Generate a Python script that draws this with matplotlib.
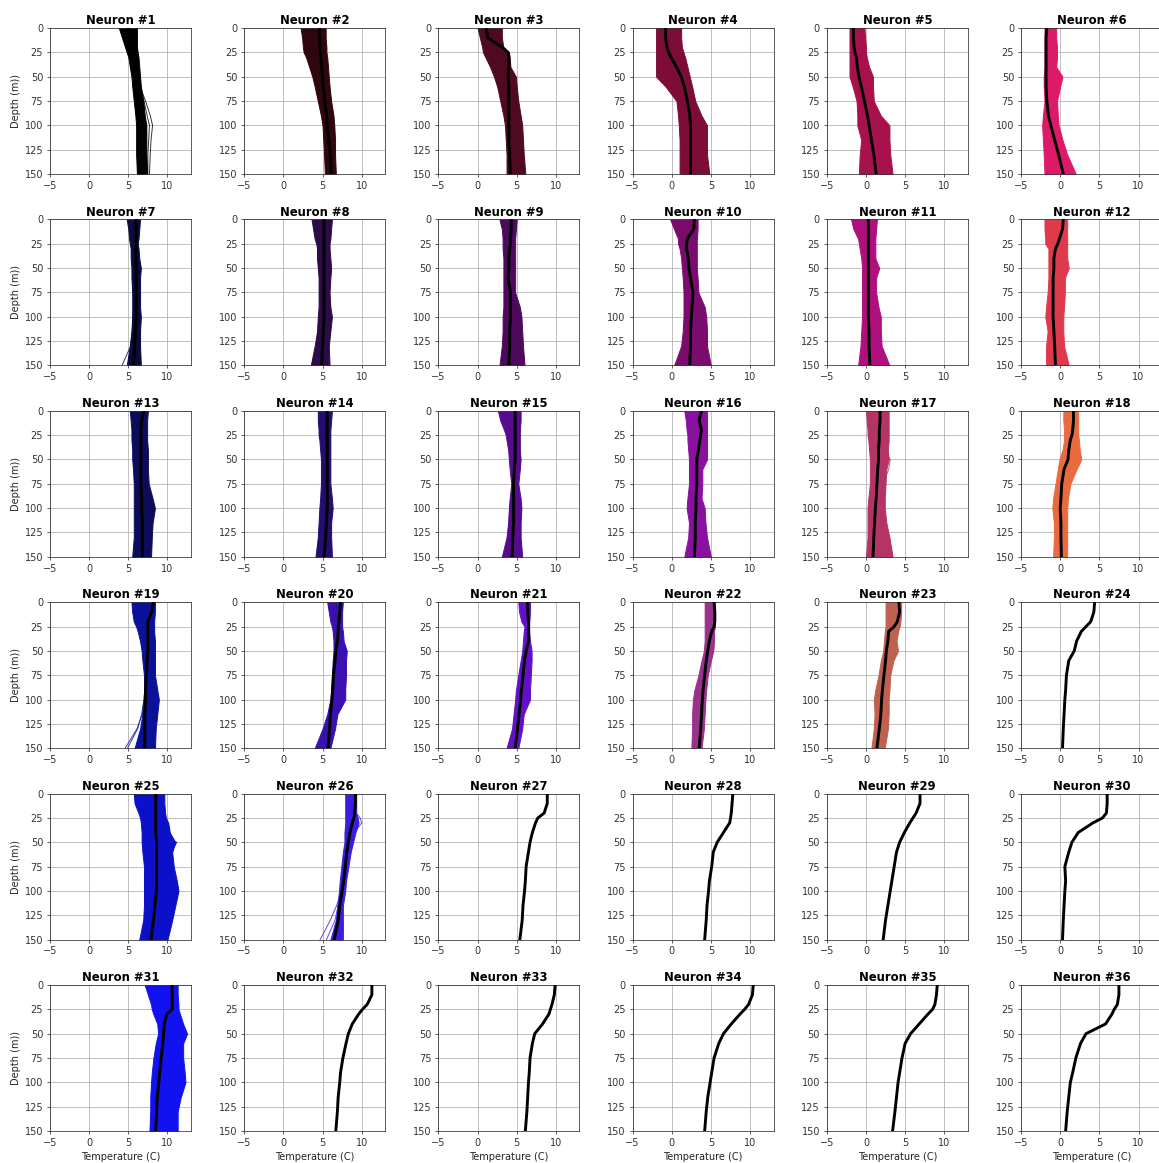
import matplotlib
matplotlib.use("Agg")
import matplotlib.pyplot as plt

# depth levels (m) where profiles were read
depth = [0, 10, 20, 25, 30, 40, 50, 60, 75, 90, 100, 115, 130, 150]

# panel fill colours (None -> only one member, just the mean line shows)
colors = {
    1: "#000000", 2: "#30060f", 3: "#4f0a22", 4: "#7d0c37", 5: "#a8124c", 6: "#dd1a6a",
    7: "#0b0b3c", 8: "#2c0b48", 9: "#4d0a5c", 10: "#7a0c6e", 11: "#b0107e", 12: "#de3a4c",
    13: "#0c0c5a", 14: "#240c70", 15: "#560c8c", 16: "#8a10a0", 17: "#b53466", 18: "#e96a3e",
    19: "#0c1298", 20: "#3a10b0", 21: "#6410c8", 22: "#98328c", 23: "#c0604f", 24: None,
    25: "#0c10c8", 26: "#3c1ce0", 27: None, 28: None, 29: None, 30: None,
    31: "#1212f0", 32: None, 33: None, 34: None, 35: None, 36: None,
}

# min / max of members per neuron
lo = {
    1: [3.8, 4.2, 4.6, 4.8, 5.0, 5.2, 5.4, 5.5, 5.7, 5.9, 6.0, 6.0, 6.0, 6.1],
    2: [2.2, 2.4, 2.5, 2.6, 2.9, 3.3, 3.7, 4.0, 4.4, 4.8, 5.0, 5.1, 5.2, 5.3],
    3: [0.0, 0.3, 0.6, 0.7, 1.0, 1.6, 2.1, 2.5, 2.9, 3.3, 3.5, 3.6, 3.7, 3.7],
    4: [-2.0, -2.0, -2.0, -2.0, -2.0, -2.0, -2.0, -0.8, 0.6, 0.8, 0.9, 1.0, 1.0, 1.0],
    5: [-2.1, -2.1, -2.1, -2.1, -2.1, -2.1, -2.1, -1.7, -1.2, -1.1, -1.1, -0.6, -0.8, -0.9],
    6: [-2.0, -2.0, -2.0, -2.0, -2.0, -2.0, -2.1, -2.1, -2.0, -2.2, -2.3, -2.2, -2.1, -2.0],
    7: [4.8, 5.0, 5.1, 5.2, 5.3, 5.3, 5.4, 5.4, 5.5, 5.5, 5.5, 5.4, 5.2, 4.8],
    8: [3.6, 3.8, 4.0, 4.2, 4.3, 4.3, 4.4, 4.5, 4.5, 4.5, 4.4, 4.3, 4.0, 3.5],
    9: [2.8, 3.1, 3.2, 3.2, 3.2, 3.3, 3.3, 3.3, 3.3, 3.3, 3.2, 3.2, 3.1, 2.8],
    10: [-0.2, 0.3, 0.8, 0.8, 1.0, 1.2, 1.3, 1.4, 1.5, 1.5, 1.5, 1.4, 1.2, 0.3],
    11: [-1.9, -1.6, -1.0, -0.9, -0.8, -0.6, -0.5, -0.5, -0.5, -0.5, -0.5, -0.6, -0.7, -1.0],
    12: [-2.0, -2.0, -1.9, -1.9, -1.5, -1.5, -1.5, -1.5, -1.6, -1.8, -1.9, -1.6, -1.8, -1.8],
    13: [5.2, 5.3, 5.4, 5.4, 5.4, 5.5, 5.5, 5.6, 5.7, 5.7, 5.7, 5.7, 5.7, 5.5],
    14: [4.4, 4.4, 4.5, 4.5, 4.6, 4.7, 4.8, 4.8, 4.8, 4.7, 4.6, 4.5, 4.4, 4.1],
    15: [2.6, 2.9, 3.4, 3.6, 3.7, 3.9, 4.0, 4.1, 4.3, 4.1, 4.0, 3.9, 3.7, 3.1],
    16: [1.6, 1.8, 1.9, 2.0, 2.0, 2.1, 2.2, 2.2, 2.2, 2.0, 1.9, 2.2, 2.1, 1.6],
    17: [0.0, 0.1, 0.2, 0.2, 0.3, 0.4, 0.5, 0.5, 0.5, 0.3, 0.2, 0.2, 0.2, 0.0],
    18: [0.4, 0.4, 0.5, 0.5, 0.5, 0.3, -0.1, -0.3, -0.6, -0.9, -1.0, -0.8, -0.8, -0.9],
    19: [5.4, 5.5, 5.7, 6.0, 6.2, 6.5, 6.7, 6.8, 7.0, 7.0, 7.0, 6.8, 6.5, 5.8],
    20: [5.6, 5.8, 6.0, 6.2, 6.3, 6.4, 6.4, 6.3, 6.2, 6.1, 6.0, 5.6, 5.0, 4.0],
    21: [5.2, 5.3, 5.6, 6.0, 5.9, 5.8, 5.7, 5.5, 5.2, 4.9, 4.8, 4.6, 4.4, 3.7],
    22: [4.2, 4.2, 4.2, 4.2, 4.2, 4.2, 4.1, 3.8, 3.4, 2.9, 2.7, 2.6, 2.6, 2.5],
    23: [2.5, 2.5, 2.5, 2.5, 2.4, 2.3, 2.2, 1.9, 1.6, 1.2, 1.0, 1.1, 1.0, 0.7],
    25: [5.7, 5.8, 6.3, 6.5, 6.6, 6.7, 6.7, 6.8, 7.0, 7.0, 7.0, 7.0, 6.9, 6.4],
    26: [7.9, 7.9, 7.9, 7.9, 7.9, 7.8, 7.8, 7.6, 7.4, 7.2, 7.1, 6.9, 6.7, 6.0],
    31: [7.1, 7.5, 7.9, 8.0, 8.2, 8.7, 8.8, 8.5, 8.2, 8.0, 7.9, 7.8, 7.8, 7.7],
}
hi = {
    1: [6.1, 6.1, 6.1, 6.2, 6.3, 6.4, 6.5, 6.6, 6.9, 7.1, 7.3, 7.3, 7.3, 7.4],
    2: [5.4, 5.4, 5.5, 5.5, 5.6, 5.7, 5.8, 5.9, 6.1, 6.4, 6.5, 6.6, 6.6, 6.7],
    3: [3.1, 3.1, 3.3, 4.0, 4.1, 4.2, 4.9, 5.0, 5.2, 5.5, 5.7, 5.8, 5.9, 6.1],
    4: [1.2, 1.2, 1.3, 1.5, 1.7, 2.0, 2.3, 2.6, 3.0, 3.8, 4.5, 4.5, 4.5, 4.8],
    5: [-0.2, -0.1, 0.0, 0.0, 0.1, 0.4, 0.9, 0.9, 1.0, 1.9, 3.0, 3.0, 3.1, 3.4],
    6: [-0.5, -0.5, -0.4, -0.4, -0.4, -0.5, 0.3, 0.0, -0.4, -0.3, -0.2, 0.3, 0.9, 2.0],
    7: [6.5, 6.4, 6.3, 6.2, 6.3, 6.4, 6.6, 6.5, 6.5, 6.5, 6.6, 6.5, 6.5, 6.6],
    8: [6.2, 6.1, 6.0, 5.9, 5.9, 6.0, 6.1, 6.0, 5.9, 6.0, 6.2, 6.0, 5.8, 5.9],
    9: [5.0, 4.9, 4.8, 4.8, 4.8, 4.8, 4.8, 4.8, 4.8, 5.4, 5.6, 5.7, 5.8, 6.0],
    10: [3.3, 3.3, 3.2, 3.2, 3.2, 3.2, 3.2, 3.3, 3.4, 4.2, 4.4, 4.5, 4.5, 5.0],
    11: [1.4, 1.3, 1.2, 1.2, 1.2, 1.2, 1.7, 1.3, 1.3, 1.6, 1.9, 1.9, 2.0, 3.0],
    12: [0.9, 0.9, 0.9, 0.9, 0.9, 0.9, 1.1, 0.6, 0.6, 0.5, 0.4, 0.4, 0.5, 1.1],
    13: [7.5, 7.4, 7.4, 7.4, 7.4, 7.5, 7.5, 7.5, 7.6, 8.1, 8.4, 8.1, 8.0, 7.9],
    14: [6.2, 6.1, 6.0, 6.0, 6.0, 6.0, 6.0, 6.0, 6.0, 6.2, 6.3, 6.1, 6.1, 6.2],
    15: [5.5, 5.5, 5.4, 5.4, 5.4, 5.4, 5.5, 5.4, 5.2, 5.5, 5.6, 5.5, 5.5, 5.7],
    16: [4.5, 4.5, 4.5, 4.5, 4.5, 4.5, 4.5, 3.9, 3.9, 3.8, 4.2, 4.3, 4.5, 5.0],
    17: [2.9, 2.9, 2.9, 2.9, 2.9, 2.8, 2.9, 2.6, 2.5, 2.4, 2.4, 2.6, 3.0, 3.4],
    18: [2.3, 2.3, 2.3, 2.3, 2.4, 2.5, 2.7, 2.1, 1.3, 1.0, 0.9, 0.9, 0.9, 0.9],
    19: [8.4, 8.4, 8.3, 8.3, 8.3, 8.4, 8.4, 8.4, 8.4, 8.7, 8.9, 8.7, 8.5, 8.4],
    20: [7.6, 7.5, 7.5, 7.5, 7.6, 7.7, 8.1, 8.0, 8.0, 7.9, 7.9, 6.9, 6.6, 6.0],
    21: [6.7, 6.7, 6.6, 6.6, 6.6, 6.7, 6.9, 6.9, 6.8, 6.7, 6.7, 5.9, 5.7, 5.2],
    22: [5.5, 5.5, 5.5, 5.5, 5.4, 5.4, 5.3, 5.0, 4.6, 4.4, 4.3, 4.2, 4.1, 3.8],
    23: [4.5, 4.5, 4.4, 4.3, 4.1, 3.9, 4.1, 3.5, 3.1, 3.0, 2.9, 2.9, 2.8, 2.4],
    25: [9.6, 9.6, 9.7, 9.8, 10.1, 10.3, 11.0, 10.6, 10.8, 11.2, 11.4, 11.0, 10.6, 10.0],
    26: [9.3, 9.3, 9.3, 9.5, 9.6, 9.2, 8.9, 8.6, 8.3, 8.0, 7.9, 7.6, 7.6, 7.6],
    31: [11.3, 11.3, 11.4, 11.4, 11.6, 12.0, 12.5, 12.0, 12.0, 12.2, 12.3, 11.7, 11.3, 11.3],
}

# mean profile per neuron
mean = {
    1: [5.0, 5.2, 5.4, 5.5, 5.7, 5.8, 6.0, 6.1, 6.3, 6.5, 6.6, 6.6, 6.6, 6.7],
    2: [4.6, 4.6, 4.7, 4.7, 4.8, 4.9, 5.0, 5.1, 5.3, 5.5, 5.6, 5.8, 6.0, 6.1],
    3: [1.1, 1.3, 3.2, 3.9, 4.0, 4.0, 3.9, 4.0, 4.0, 4.0, 4.0, 4.0, 4.1, 4.2],
    4: [-0.8, -0.8, -0.6, -0.4, -0.1, 0.6, 1.2, 1.6, 2.0, 2.3, 2.4, 2.4, 2.4, 2.4],
    5: [-1.6, -1.6, -1.5, -1.4, -1.2, -1.1, -0.9, -0.6, -0.2, 0.2, 0.4, 0.7, 1.0, 1.3],
    6: [-1.7, -1.8, -1.8, -1.8, -1.8, -1.8, -1.8, -1.8, -1.7, -1.5, -1.2, -0.7, -0.2, 0.4],
    7: [6.0, 6.0, 6.0, 6.0, 6.0, 6.0, 6.0, 6.0, 6.0, 6.0, 6.0, 5.9, 5.8, 5.7],
    8: [5.2, 5.2, 5.2, 5.2, 5.2, 5.2, 5.2, 5.2, 5.2, 5.2, 5.2, 5.1, 5.0, 4.9],
    9: [4.3, 4.3, 4.2, 4.2, 4.1, 4.0, 4.0, 3.9, 4.2, 4.2, 4.2, 4.1, 4.1, 4.0],
    10: [2.9, 2.8, 2.0, 1.9, 1.9, 2.1, 2.2, 2.4, 2.7, 2.6, 2.5, 2.4, 2.4, 2.3],
    11: [0.3, 0.3, 0.3, 0.3, 0.3, 0.3, 0.3, 0.3, 0.3, 0.3, 0.3, 0.4, 0.4, 0.5],
    12: [0.4, 0.3, -0.1, -0.3, -0.6, -0.8, -0.8, -0.9, -0.9, -0.9, -0.9, -0.8, -0.7, -0.6],
    13: [7.0, 6.7, 6.6, 6.6, 6.6, 6.6, 6.6, 6.6, 6.6, 6.7, 6.7, 6.8, 6.8, 6.8],
    14: [5.6, 5.6, 5.6, 5.6, 5.6, 5.6, 5.6, 5.6, 5.6, 5.6, 5.6, 5.5, 5.4, 5.2],
    15: [4.8, 4.8, 4.8, 4.8, 4.8, 4.8, 4.8, 4.7, 4.6, 4.6, 4.6, 4.6, 4.5, 4.4],
    16: [3.8, 3.5, 3.8, 3.7, 3.6, 3.4, 3.2, 3.2, 3.2, 3.1, 3.1, 3.0, 3.0, 2.9],
    17: [1.8, 1.8, 1.7, 1.7, 1.7, 1.6, 1.6, 1.5, 1.4, 1.3, 1.2, 1.1, 1.0, 0.9],
    18: [1.7, 1.7, 1.6, 1.5, 1.3, 1.1, 1.0, 0.5, 0.2, 0.1, 0.0, 0.1, 0.1, 0.15],
    19: [8.2, 8.0, 7.5, 7.5, 7.5, 7.5, 7.5, 7.4, 7.3, 7.2, 7.2, 7.1, 7.1, 7.1],
    20: [7.3, 7.2, 7.1, 7.0, 7.0, 6.9, 6.7, 6.6, 6.4, 6.3, 6.2, 6.0, 5.9, 5.7],
    21: [6.4, 6.4, 6.5, 6.5, 6.5, 6.5, 6.2, 6.0, 5.8, 5.6, 5.5, 5.3, 5.1, 4.8],
    22: [5.4, 5.5, 5.5, 5.4, 5.1, 4.8, 4.6, 4.4, 4.2, 4.0, 3.9, 3.8, 3.7, 3.5],
    23: [4.2, 4.3, 4.0, 3.6, 2.9, 2.8, 2.6, 2.5, 2.3, 2.1, 2.0, 1.9, 1.7, 1.4],
    24: [4.4, 4.3, 3.9, 3.3, 2.7, 2.1, 1.8, 1.1, 0.8, 0.7, 0.6, 0.5, 0.4, 0.3],
    25: [8.5, 8.5, 8.5, 8.5, 8.5, 8.5, 8.6, 8.6, 8.6, 8.6, 8.6, 8.4, 8.2, 7.9],
    26: [9.2, 9.2, 9.1, 9.0, 8.8, 8.5, 8.3, 8.1, 7.9, 7.7, 7.5, 7.2, 7.0, 6.5],
    27: [8.9, 8.9, 8.5, 7.7, 7.4, 7.0, 6.7, 6.5, 6.2, 6.1, 6.0, 5.8, 5.7, 5.4],
    28: [7.8, 7.7, 7.6, 7.5, 7.4, 6.6, 5.8, 5.3, 5.1, 4.8, 4.7, 4.5, 4.4, 4.2],
    29: [6.9, 6.9, 6.4, 6.0, 5.6, 4.9, 4.3, 3.9, 3.6, 3.3, 3.1, 2.8, 2.5, 2.2],
    30: [6.0, 6.0, 5.9, 5.4, 4.2, 2.3, 1.5, 1.1, 0.6, 0.7, 0.6, 0.5, 0.4, 0.3],
    31: [10.6, 10.6, 10.6, 10.6, 9.9, 9.6, 9.5, 9.4, 9.2, 9.0, 8.9, 8.7, 8.6, 8.5],
    32: [11.3, 11.3, 10.7, 10.1, 9.6, 8.8, 8.3, 8.0, 7.6, 7.3, 7.2, 7.0, 6.9, 6.7],
    33: [9.9, 9.8, 9.5, 9.3, 9.1, 8.3, 7.3, 7.0, 6.7, 6.6, 6.5, 6.4, 6.3, 6.1],
    34: [10.4, 10.3, 9.8, 9.3, 8.7, 7.6, 6.6, 6.0, 5.4, 5.1, 4.9, 4.6, 4.4, 4.2],
    35: [9.1, 9.0, 8.8, 8.5, 7.9, 6.8, 5.7, 5.0, 4.6, 4.3, 4.1, 3.9, 3.7, 3.4],
    36: [7.5, 7.5, 7.3, 6.9, 6.6, 5.8, 3.3, 2.6, 2.0, 1.6, 1.3, 1.1, 0.9, 0.7],
}

# a few stray member profiles that stick out of the bundle
strays = {
    1: [[5.3, 5.5, 5.8, 5.9, 6.1, 6.2, 6.4, 6.5, 7.2, 7.8, 8.1, 7.9, 7.8, 7.7],
        [5.3, 5.5, 5.8, 5.9, 6.1, 6.2, 6.4, 6.5, 7.0, 7.4, 7.7, 7.6, 7.5, 7.5]],
    7: [[5.2, 5.3, 5.4, 5.5, 5.6, 5.6, 5.7, 5.7, 5.7, 5.7, 5.6, 5.5, 5.3, 4.2]],
    17: [[0.8, 1.0, 1.3, 1.5, 1.8, 2.4, 3.1, 2.9, 2.2, 1.6, 1.3, 1.0, 0.8, 0.5]],
    19: [[5.8, 6.0, 6.4, 6.6, 6.8, 7.0, 7.2, 7.2, 7.2, 7.1, 7.0, 6.8, 6.1, 4.6],
         [5.9, 6.1, 6.5, 6.7, 6.9, 7.1, 7.2, 7.2, 7.2, 7.1, 7.0, 6.7, 6.2, 4.9]],
    25: [[6.2, 6.4, 7.0, 7.4, 7.8, 8.8, 11.2, 10.5, 9.6, 9.2, 9.0, 8.6, 8.2, 7.6]],
    26: [[8.2, 8.4, 9.3, 9.8, 10.0, 9.1, 8.8, 8.4, 8.0, 7.7, 7.5, 7.0, 6.6, 5.5],
         [8.0, 8.2, 8.6, 8.8, 9.0, 8.9, 8.7, 8.3, 7.9, 7.6, 7.4, 6.8, 6.0, 4.7]],
}

plt.rcParams['axes.edgecolor'] = '#333333'
plt.rcParams['xtick.color'] = '#333333'
plt.rcParams['ytick.color'] = '#333333'
plt.rcParams['axes.labelcolor'] = '#222222'

fig, axes = plt.subplots(6, 6, figsize=(1159 / 70, 1163 / 70), dpi=70)
fig.subplots_adjust(left=0.0431, right=1.0026, top=0.9759, bottom=0.0275,
                    wspace=0.377, hspace=0.311)

for k in range(1, 37):
    ax = axes[(k - 1) // 6][(k - 1) % 6]
    c = colors[k]
    if k in lo:
        ax.fill_betweenx(depth, lo[k], hi[k], color=c, lw=1.0, zorder=2)
    if k in strays:
        for s in strays[k]:
            ax.plot(s, depth, color=c, lw=1.0, alpha=0.8, zorder=2)
    ax.plot(mean[k], depth, color="black", lw=3, zorder=3)

    ax.set_title("Neuron #%d" % k, fontweight="bold", pad=4)
    ax.set_xlim(-5, 13)
    ax.set_ylim(150, 0)
    ax.set_xticks([-5, 0, 5, 10])
    ax.set_yticks([0, 25, 50, 75, 100, 125, 150])
    ax.grid(True)
    ax.set_axisbelow(True)
    if (k - 1) % 6 == 0:
        ax.set_ylabel("Depth (m))")
    if k > 30:
        ax.set_xlabel("Temperature (C)")

plt.savefig("out.png", dpi=70)
